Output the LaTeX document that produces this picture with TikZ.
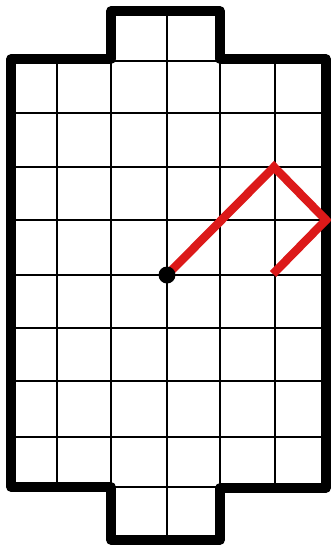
\documentclass[tikz,border=0pt]{standalone}
\begin{document}
\begin{tikzpicture}[x=1pt,y=-1pt,
  thinline/.style={line width=2.8pt,black},
  thickline/.style={line width=9.5pt,black,line join=round},
  redpath/.style={line width=8.5pt,color={rgb,255:red,220;green,25;blue,25},line join=miter}]
\useasboundingbox (0,0) rectangle (331,547);
% thin grid verticals
\foreach \x in {57,111,167,220,275} \draw[thinline] (\x,59) -- (\x,487);
\draw[thinline] (167,11) -- (167,59);
\draw[thinline] (167,487) -- (167,540);
% thin grid horizontals
\foreach \y in {113,167,220,275,328,381,437} \draw[thinline] (11,\y) -- (326,\y);
\draw[thinline] (111,61) -- (220,61);
\draw[thinline] (111,487) -- (220,487);
% outline
\draw[thickline] (11,59) -- (111,59) -- (111,11) -- (220,11) -- (220,59) -- (326,59)
  -- (326,488) -- (220,488) -- (220,540) -- (111,540) -- (111,487) -- (11,487) -- cycle;
% red path
\coordinate (start) at (167,275);
\coordinate (p1) at (274,167);
\coordinate (p2) at (326,220);
\coordinate (p3) at (273,274);
\draw[redpath] (start) -- (p1) -- (p2) -- (p3);
\fill[black] (start) circle (8.5pt);
\end{tikzpicture}
\end{document}
